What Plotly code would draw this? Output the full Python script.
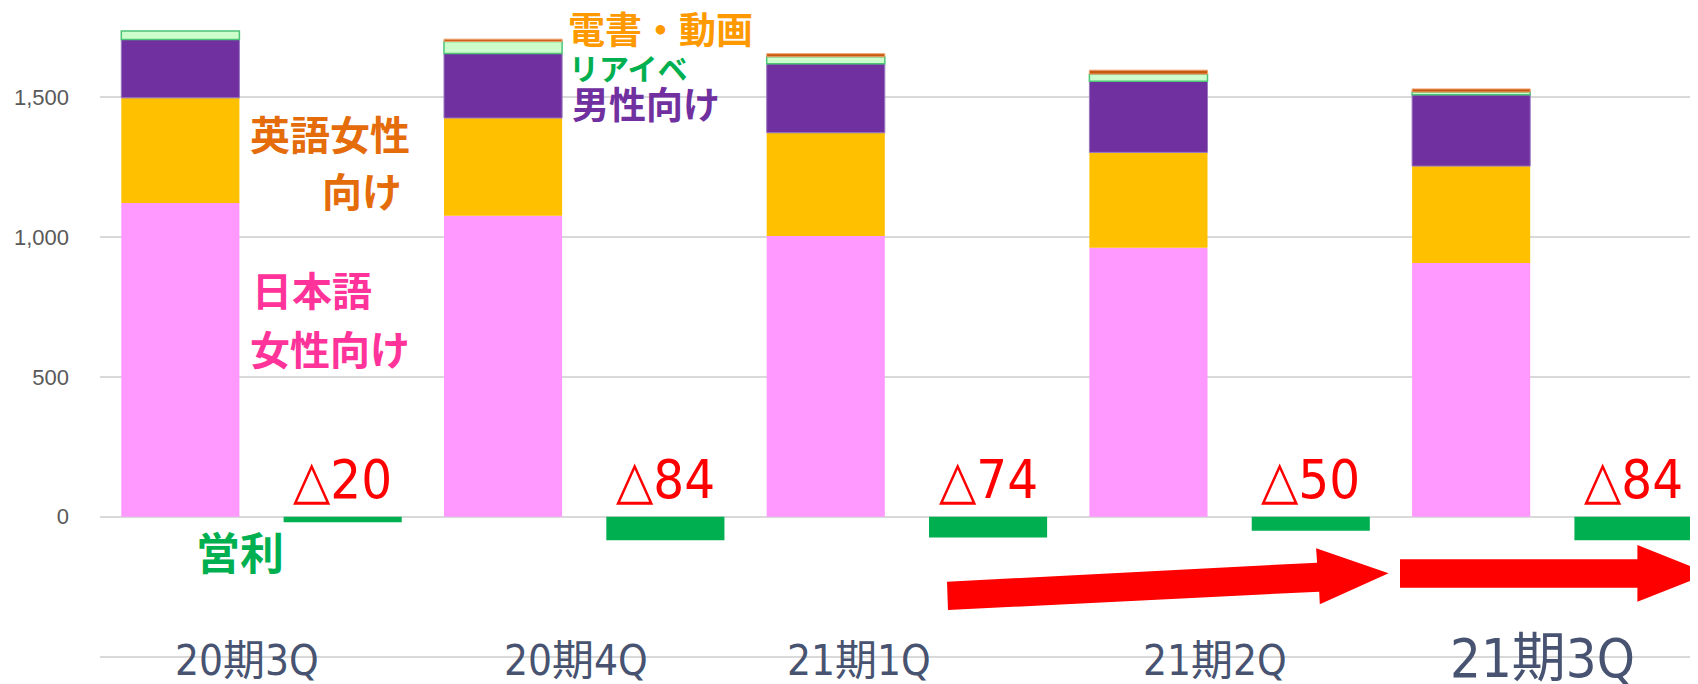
import plotly.graph_objects as go

# ---- data ----
quarters = ["20期3Q", "20期4Q", "21期1Q", "21期2Q", "21期3Q"]
jp_female = [1122, 1076, 1004, 962, 907]      # 日本語女性向け
en_female = [376, 350, 369, 341, 347]          # 英語女性向け
male = [209, 231, 247, 254, 255]               # 男性向け
real_event = [30, 43, 25, 26, 10]              # リアイベ
ebook_video = [0, 8, 11, 14, 11]               # 電書・動画
op_profit = [-20, -84, -74, -50, -84]          # 営利

ytick_vals = [-500, 0, 500, 1000, 1500]
ytick_text = ["", "0", "500", "1,000", "1,500"]

# ---- layout constants (window pixels; page body has an 8px margin) ----
OFF = 8
W, H = 1698 - OFF, 684 - OFF
PLOT_LEFT_WIN = 100
ML = PLOT_LEFT_WIN - OFF
PW, PH = W - ML, H
SLOT = 322.7                      # px per category
Y0_WIN, PX_PER_UNIT = 516.7, 0.2796
BAR_W = 0.366
REV_OFF, PROF_OFF = -0.434, 0.069

x_range = [-0.5, -0.5 + PW / SLOT]
y_range = [((Y0_WIN - OFF) - PH) / PX_PER_UNIT, (Y0_WIN - OFF) / PX_PER_UNIT]


def px(xw, yw):
    """window pixel -> paper coords"""
    return (xw - OFF - ML) / PW, 1 - (yw - OFF) / PH


CJK = "Noto Sans CJK JP"
NARROW = "DejaVu Sans Condensed, Liberation Sans Narrow, DejaVu Sans, Noto Sans CJK JP"

fig = go.Figure()

series = [
    ("日本語女性向け", jp_female, "#FF99FF", "#FF99FF", 0),
    ("英語女性向け", en_female, "#FFC000", "#FFC000", 0),
    ("男性向け", male, "#7030A0", "#9A78C2", 1),
    ("リアイベ", real_event, "#CCFFCC", "#4CC476", 1.5),
    ("電書・動画", ebook_video, "#C55A11", "#F2A470", 1),
]
for name, vals, col, lcol, lw in series:
    widths = [lw if v else 0 for v in vals]
    fig.add_trace(go.Bar(
        x=quarters, y=vals, name=name, width=BAR_W, offset=REV_OFF,
        marker=dict(color=col, line=dict(color=lcol, width=widths)),
        showlegend=False, hoverinfo="skip",
    ))

fig.add_trace(go.Bar(
    x=quarters, y=op_profit, name="営利", width=BAR_W, offset=PROF_OFF,
    marker=dict(color="#00B050", line=dict(width=0)),
    showlegend=False, hoverinfo="skip",
))

annotations = []

# loss labels above the profit bars
prof_center_shift = (PROF_OFF + BAR_W / 2) * SLOT
for q, v in zip(quarters, op_profit):
    annotations.append(dict(
        x=q, y=0, xref="x", yref="y", text=f"△{abs(v)}", showarrow=False,
        xanchor="center", yanchor="bottom", xshift=prof_center_shift, yshift=4,
        font=dict(family=NARROW, size=54, color="#FF0000"),
    ))

# category labels
cat_shift = [-14, -8, -48, -14, -10]
cat_size = [42, 42, 42, 42, 54]
cat_y = [660, 660, 660, 660, 658]
for q, sh, sz, yw in zip(quarters, cat_shift, cat_size, cat_y):
    annotations.append(dict(
        x=q, y=px(0, yw)[1], xref="x", yref="paper", text=q, showarrow=False,
        xanchor="center", yanchor="middle", xshift=sh,
        font=dict(family=NARROW, size=sz, color="#475370"),
    ))

# series labels (window pixel positions)
labels = [
    ("英語女性", 248, 133, 40, "#E46C0A", "left"),
    ("向け", 404, 190, 40, "#E46C0A", "right"),
    ("日本語", 250, 289, 40, "#FF3399", "left"),
    ("女性向け", 248, 348, 40, "#FF3399", "left"),
    ("電書・動画", 566, 28, 37, "#FF9900", "left"),
    ("リアイベ", 567, 67, 30, "#00B050", "left"),
    ("男性向け", 570, 103, 37, "#7030A0", "left"),
    ("営利", 240, 551, 44, "#00B050", "center"),
]
for txt, xp, yp, sz, col, anc in labels:
    xx, yy = px(xp, yp)
    annotations.append(dict(
        x=xx, y=yy, xref="paper", yref="paper", text=f"<b>{txt}</b>",
        showarrow=False, xanchor=anc, yanchor="middle",
        font=dict(family=CJK, size=sz, color=col),
    ))


def poly(points):
    parts = []
    for i, (xp, yp) in enumerate(points):
        xx, yy = px(xp, yp)
        parts.append(("M" if i == 0 else "L") + f"{xx:.5f},{yy:.5f}")
    return " ".join(parts) + " Z"


arrow1 = [(947, 581.7), (1317.1, 562.7), (1316.1, 548.3), (1388.6, 573.3),
          (1319.8, 604.3), (1319.2, 591.7), (948, 610)]
arrow2 = [(1400, 559.3), (1637.4, 559.3), (1637.4, 545), (1709, 573.5),
          (1637.4, 601.7), (1637.4, 587.7), (1400, 587.7)]
shapes = [dict(type="path", path=poly(a), xref="paper", yref="paper",
               fillcolor="#FF0000", line=dict(width=0), layer="above")
          for a in (arrow1, arrow2)]

fig.update_layout(
    width=W, height=H, barmode="relative",
    margin=dict(l=ML, r=0, t=0, b=0, pad=0),
    plot_bgcolor="white", paper_bgcolor="white",
    xaxis=dict(range=x_range, showticklabels=False, showgrid=False,
               zeroline=False, showline=False, ticks=""),
    yaxis=dict(range=y_range, tickvals=ytick_vals, ticktext=ytick_text,
               showgrid=True, gridcolor="#D9D9D9", gridwidth=2,
               zeroline=False, showline=False, ticks="",
               ticklabelstandoff=30,
               tickfont=dict(family="Liberation Sans, Arial", size=22,
                             color="#595959")),
    annotations=annotations, shapes=shapes,
)

fig.write_html("out.html")
